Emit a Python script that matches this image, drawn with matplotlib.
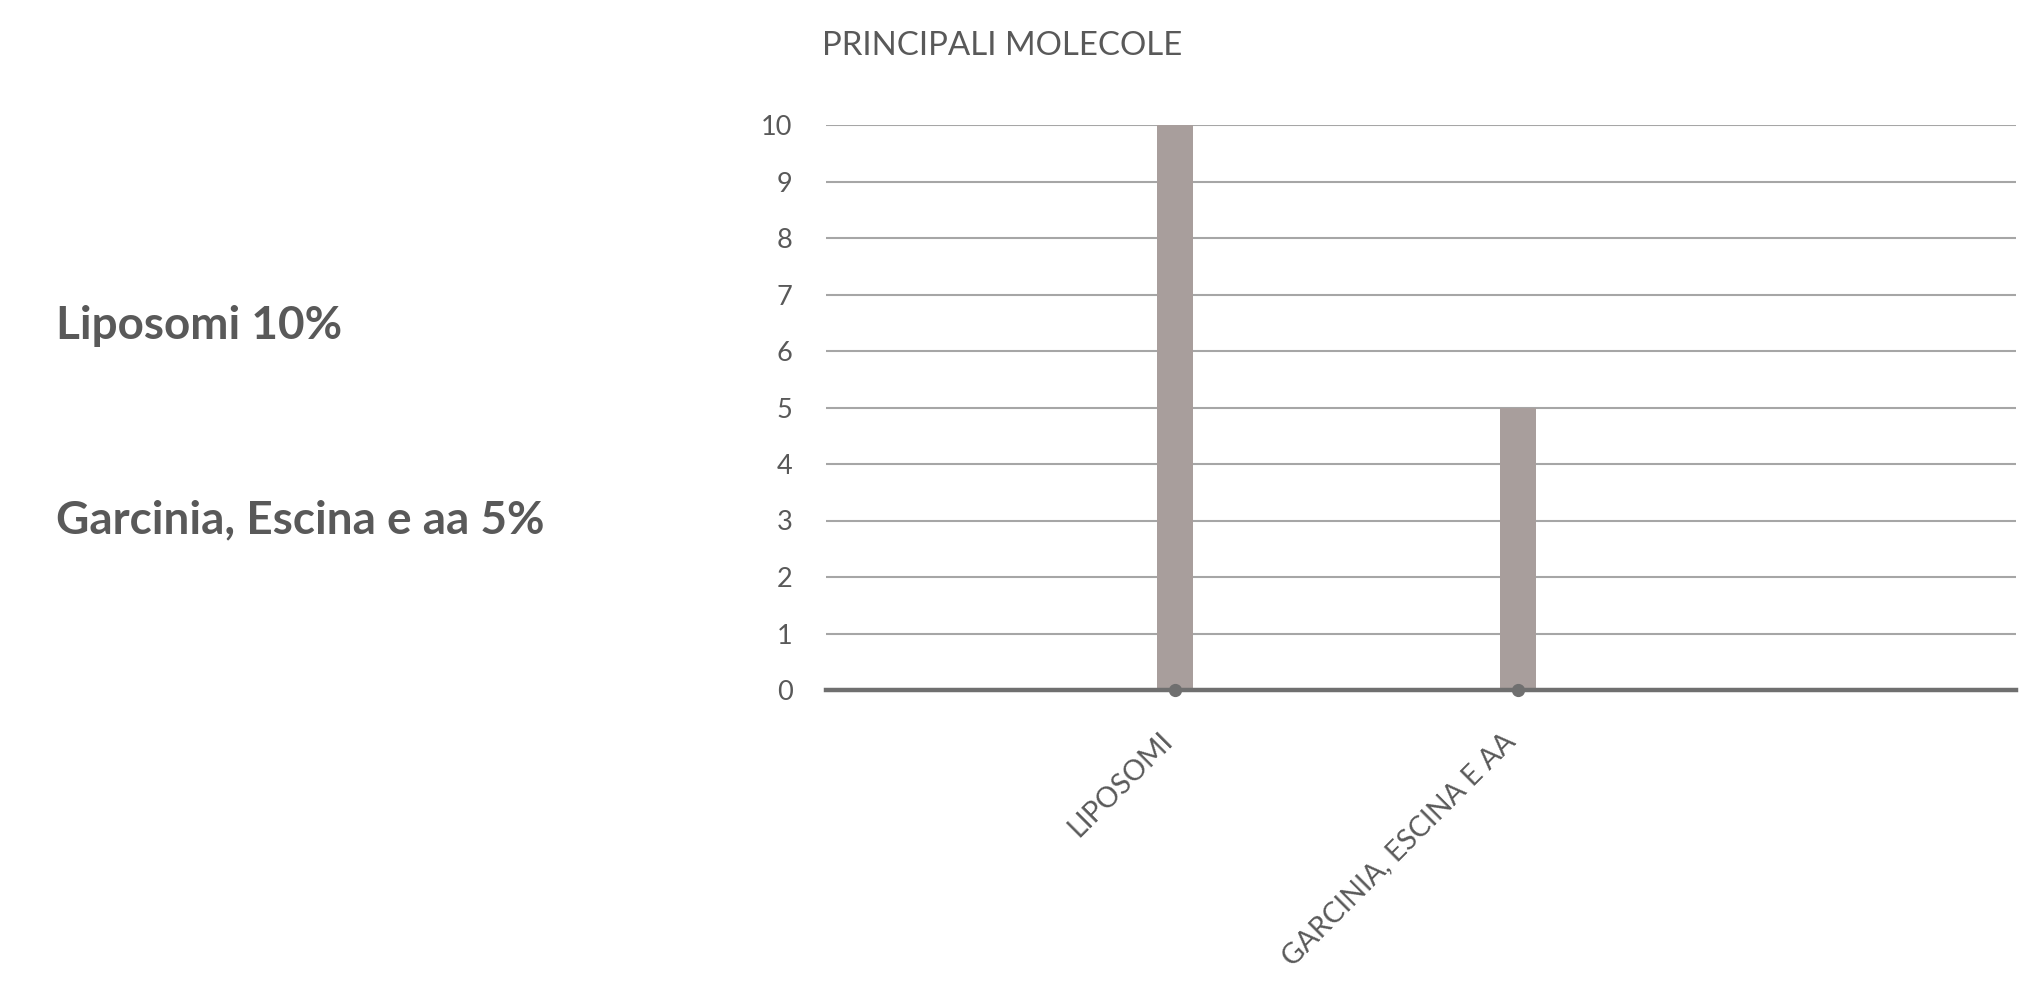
import matplotlib
matplotlib.use("Agg")
import matplotlib.pyplot as plt
from matplotlib.transforms import ScaledTranslation

# Chart data
categories = ["LIPOSOMI", "GARCINIA, ESCINA E AA"]
values = [10, 5]
baseline_points = [0, 0]
y_ticks = list(range(0, 11))
title = "PRINCIPALI MOLECOLE"
side_notes = ["Liposomi 10%", "Garcinia, Escina e aa 5%"]

TEXT = "#595959"
BAR = "#a89e9c"
GRID = "#a6a6a6"
AXIS = "#6f6f6f"

plt.rcParams["font.family"] = ["Lato", "DejaVu Sans"]

fig = plt.figure(figsize=(20.37, 9.88), dpi=100)
ax = fig.add_axes([826 / 2037, 1 - 690 / 988, (2016 - 826) / 2037, (690 - 125) / 988])

x = [1, 2]
ax.bar(x, values, width=0.106, color=BAR, zorder=2)
ax.plot(x, baseline_points, linestyle="none", marker="o", markersize=8.5,
        color=AXIS, zorder=4, clip_on=False)

ax.set_xlim(-0.02, 3.455)
ax.set_ylim(0, 10)
ax.set_yticks(y_ticks)
ax.set_xticks(x)
ax.set_xticklabels(categories, rotation=45, ha="right", va="top",
                   rotation_mode="anchor")
ax.tick_params(axis="y", length=0, pad=24, labelsize=19.5, labelcolor=TEXT)
ax.tick_params(axis="x", length=0, pad=27, labelsize=20.5, labelcolor=TEXT)

# nudge the rotated category labels slightly left
shift = ScaledTranslation(-16 / 100, 0, fig.dpi_scale_trans)
for lbl in ax.get_xticklabels():
    lbl.set_transform(lbl.get_transform() + shift)

for s in ax.spines.values():
    s.set_visible(False)
ax.grid(axis="y", color=GRID, linewidth=1.5, zorder=0)
ax.axhline(0, color=AXIS, linewidth=3.2, zorder=3, clip_on=False)

fig.text(822 / 2037, 1 - 46 / 988, title, ha="left", va="center",
         fontsize=23.8, color=TEXT)

fig.text(56 / 2037, 1 - 326 / 988, side_notes[0], ha="left", va="center",
         fontsize=33, fontweight="bold", color=TEXT)
fig.text(56 / 2037, 1 - 520 / 988, side_notes[1], ha="left", va="center",
         fontsize=33, fontweight="bold", color=TEXT)

fig.savefig("out.png", dpi=100, facecolor="white")
